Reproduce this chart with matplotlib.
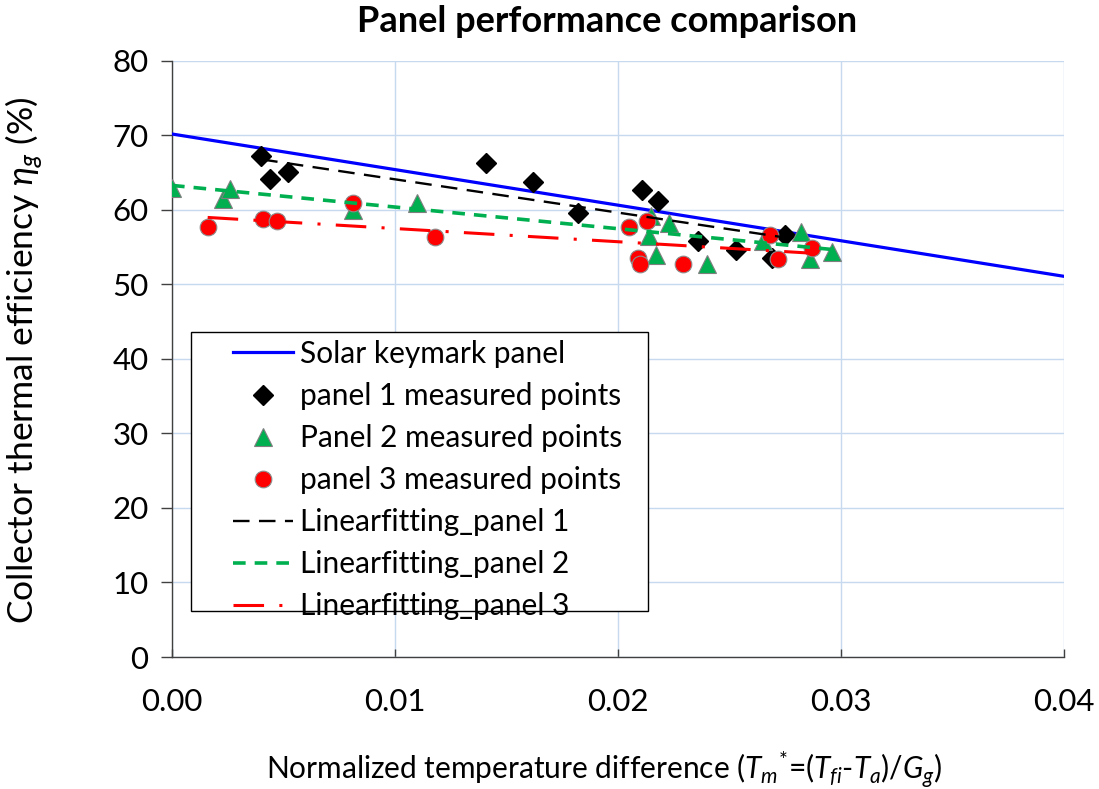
import matplotlib
matplotlib.use("Agg")
import matplotlib.pyplot as plt
from matplotlib.patches import Rectangle

# ---- data ----
solar_x = [0.0, 0.04]
solar_y = [70.2, 51.1]

p1_x = [0.0040, 0.0044, 0.0052, 0.0141, 0.0162, 0.0182, 0.0211, 0.0218, 0.0236, 0.0253, 0.0269, 0.0275]
p1_y = [67.2, 64.1, 65.1, 66.3, 63.7, 59.6, 62.7, 61.2, 55.8, 54.6, 53.6, 56.7]

p2_x = [0.0000, 0.0023, 0.0026, 0.0081, 0.0110, 0.0215, 0.0214, 0.0217, 0.0223, 0.0240, 0.0265, 0.0282, 0.0286, 0.0296]
p2_y = [63.0, 61.5, 62.8, 60.0, 61.0, 59.2, 56.5, 53.9, 58.3, 52.7, 55.8, 57.1, 53.4, 54.4]

p3_x = [0.0016, 0.0041, 0.0047, 0.0081, 0.0118, 0.0205, 0.0213, 0.0209, 0.0210, 0.0229, 0.0268, 0.0272, 0.0287]
p3_y = [57.7, 58.8, 58.5, 61.0, 56.4, 57.7, 58.5, 53.5, 52.7, 52.8, 56.6, 53.4, 54.9]

fit1_x = [0.0040, 0.0275]
fit1_y = [66.8, 56.3]
fit2_x = [0.0, 0.0296]
fit2_y = [63.3, 54.7]
fit3_x = [0.0016, 0.0287]
fit3_y = [59.0, 54.2]

x_ticks = [0.00, 0.01, 0.02, 0.03, 0.04]
y_ticks = [0, 10, 20, 30, 40, 50, 60, 70, 80]

plt.rcParams['font.family'] = ['Lato', 'DejaVu Sans']
plt.rcParams['mathtext.fontset'] = 'custom'
plt.rcParams['mathtext.rm'] = 'Lato'
plt.rcParams['mathtext.it'] = 'Lato:italic'

fig = plt.figure(figsize=(10.99, 7.89), dpi=100)
ax = fig.add_axes([0.1565, 0.1673, 0.8115, 0.7554])

grid_c = '#c6d9ee'
axis_c = '#404040'

ax.plot(solar_x, solar_y, color='#0000ff', lw=2.3, label='Solar keymark panel', zorder=3)
ax.plot(p1_x, p1_y, ls='none', marker='D', ms=10.5, color='black', mec='black',
        label='panel 1 measured points', zorder=4)
ax.plot(p2_x, p2_y, ls='none', marker='^', ms=13, color='#00b050', mec='#7f7f7f', mew=0.8,
        label='Panel 2 measured points', zorder=4)
ax.plot(p3_x, p3_y, ls='none', marker='o', ms=12, color='#ff0000', mec='#8c8c8c', mew=0.8,
        label='panel 3 measured points', zorder=4)
ax.plot(fit1_x, fit1_y, color='black', lw=1.7, dashes=(7, 4), label='Linearfitting_panel 1', zorder=5)
ax.plot(fit2_x, fit2_y, color='#00b050', lw=2.6, dashes=(3.5, 2.5), label='Linearfitting_panel 2', zorder=5)
ax.plot(fit3_x, fit3_y, color='#ff0000', lw=2.2, dashes=(10, 5, 1, 5), label='Linearfitting_panel 3', zorder=5)

ax.set_xlim(0, 0.04)
ax.set_ylim(0, 80)
ax.set_xticks(x_ticks)
ax.set_yticks(y_ticks)
ax.set_xticklabels([f'{v:.2f}' for v in x_ticks])

ax.grid(True, color=grid_c, lw=1.0, zorder=0)
ax.set_axisbelow(True)
for s in ['top', 'right']:
    ax.spines[s].set_visible(False)
for s in ['left', 'bottom']:
    ax.spines[s].set_color(axis_c)
    ax.spines[s].set_linewidth(1.0)

ax.tick_params(axis='y', direction='out', length=8, width=1.0, color=axis_c, labelsize=22.5, pad=9)
ax.tick_params(axis='x', direction='in', length=6, width=1.0, color=axis_c, labelsize=22.5, pad=22)

fig.text(607 / 1099, 1 - 22 / 789, 'Panel performance comparison', fontsize=26,
         fontweight='bold', ha='center', va='center')
ax.set_ylabel(r'Collector thermal efficiency $\eta_g$ (%)', fontsize=25.5)
ax.yaxis.set_label_coords(-0.142, 0.497)
ax.set_xlabel(r'Normalized temperature difference ($T_m{}^{*}$=($T_{fi}$-$T_a$)/$G_g$)',
              fontsize=21.5)
ax.xaxis.set_label_coords(0.485, -0.155)

# legend box drawn separately: the entries sit well inside the frame on the left
ax.add_patch(Rectangle((0.0213, 0.0772), 0.5123, 0.468, transform=ax.transAxes,
                       facecolor='white', edgecolor='black', lw=1.0, zorder=6))
leg = ax.legend(loc='upper left', bbox_to_anchor=(0.0684, 0.532), borderaxespad=0,
                fontsize=21.5, frameon=False, handlelength=2.0, handletextpad=0.25,
                labelspacing=0.47, borderpad=0)
leg.set_zorder(7)

fig.savefig('out.png', dpi=100)
